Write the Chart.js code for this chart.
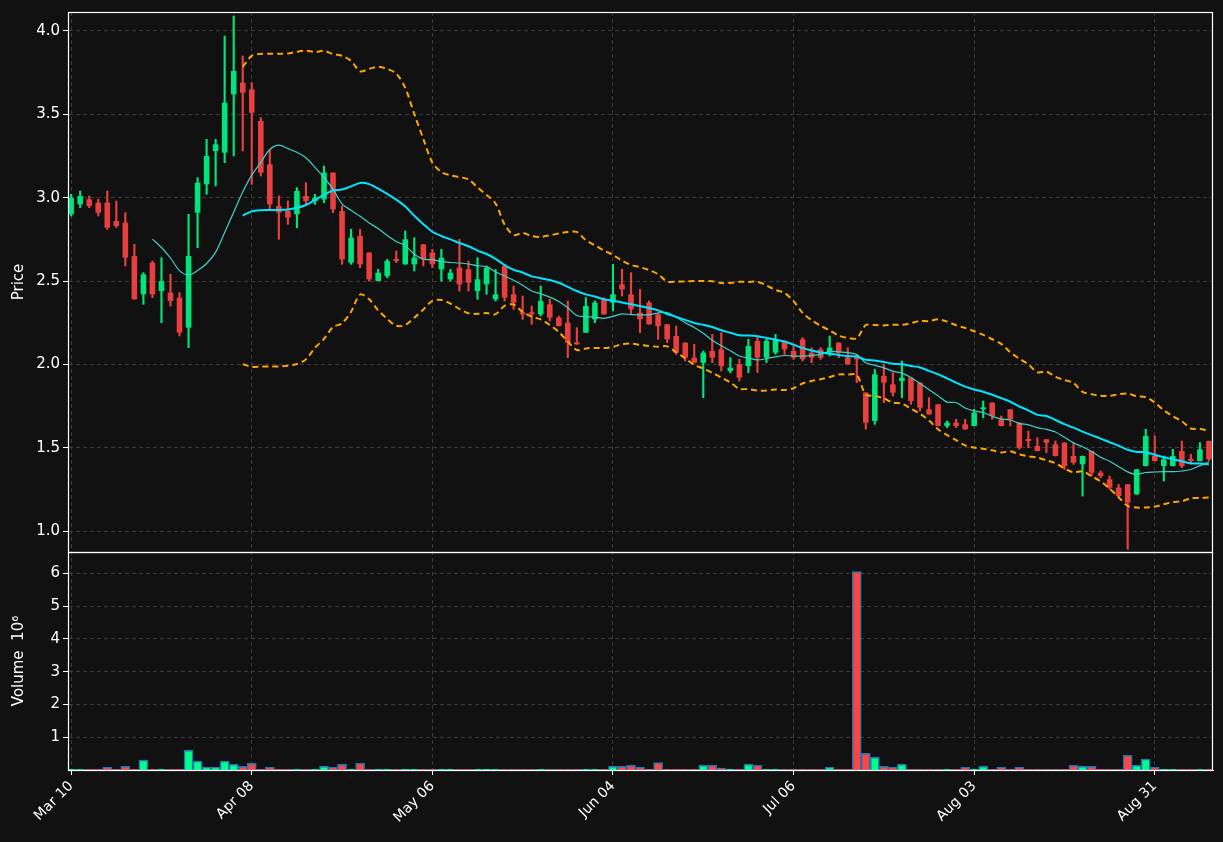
<!DOCTYPE html>
<html><head><meta charset="utf-8">
<script src="https://cdn.jsdelivr.net/npm/chart.js@4"></script>
<style>html,body{margin:0;padding:0;background:#111111;}#wrap{width:1223px;height:842px;}</style>
</head><body><div id="wrap"><canvas id="c" width="1223" height="842"></canvas></div>
<script>
const tickLabels = ['Mar 10','Apr 08','May 06','Jun 04','Jul 06','Aug 03','Aug 31'];
const openP = [2.90,2.96,2.99,2.97,2.97,2.86,2.85,2.65,2.42,2.61,2.44,2.43,2.40,2.22,2.91,3.08,3.28,3.27,3.62,3.69,
3.65,3.46,3.20,2.95,2.92,2.90,3.01,2.98,2.99,3.15,2.92,2.61,2.77,2.67,2.50,2.53,2.63,2.60,2.60,2.72,
2.67,2.57,2.51,2.58,2.57,2.44,2.48,2.39,2.59,2.42,2.31,2.31,2.30,2.36,2.28,2.25,2.13,2.19,2.27,2.39,
2.37,2.48,2.42,2.31,2.37,2.30,2.24,2.17,2.13,2.04,2.01,2.08,2.09,1.96,2.00,1.99,2.14,2.04,2.07,2.14,
2.08,2.15,2.07,2.09,2.07,2.13,2.04,2.05,1.83,1.66,1.93,1.88,1.90,1.92,1.89,1.73,1.76,1.63,1.65,1.64,
1.63,1.73,1.77,1.67,1.73,1.65,1.55,1.51,1.55,1.52,1.53,1.45,1.40,1.48,1.35,1.31,1.26,1.28,1.22,1.39,
1.45,1.39,1.39,1.48,1.43,1.42,1.54];
const highP = [3.02,3.04,3.01,2.99,3.04,2.98,2.91,2.72,2.55,2.62,2.64,2.54,2.43,2.90,3.12,3.35,3.35,3.97,4.09,3.85,
3.69,3.48,3.29,3.01,2.98,3.06,3.09,3.02,3.19,3.15,2.95,2.81,2.81,2.67,2.57,2.63,2.68,2.80,2.76,2.72,
2.69,2.69,2.57,2.75,2.62,2.64,2.59,2.57,2.60,2.47,2.41,2.35,2.47,2.39,2.29,2.38,2.22,2.40,2.38,2.40,
2.60,2.57,2.55,2.45,2.38,2.31,2.24,2.23,2.13,2.12,2.08,2.18,2.19,2.04,2.03,2.15,2.17,2.15,2.18,2.14,
2.11,2.16,2.10,2.10,2.17,2.13,2.10,2.06,1.83,1.97,2.00,1.95,2.02,1.92,1.89,1.80,1.76,1.66,1.67,1.67,
1.73,1.78,1.77,1.69,1.73,1.65,1.60,1.56,1.55,1.54,1.53,1.53,1.45,1.48,1.36,1.33,1.28,1.28,1.37,1.61,
1.57,1.45,1.49,1.54,1.46,1.53,1.54];
const lowP = [2.89,2.94,2.94,2.89,2.81,2.82,2.59,2.39,2.36,2.40,2.25,2.35,2.17,2.10,2.70,3.02,3.07,3.21,3.25,3.28,
3.08,3.13,2.93,2.75,2.84,2.82,2.96,2.96,2.97,2.91,2.60,2.60,2.58,2.50,2.50,2.52,2.61,2.60,2.56,2.59,
2.58,2.50,2.50,2.44,2.44,2.39,2.42,2.38,2.38,2.33,2.27,2.24,2.29,2.26,2.23,2.04,2.12,2.19,2.25,2.30,
2.32,2.41,2.30,2.19,2.24,2.15,2.13,2.06,2.02,2.01,1.80,2.01,1.96,1.95,1.90,1.95,1.95,2.01,2.06,2.06,
2.03,2.02,2.01,2.03,2.05,2.04,2.00,1.89,1.61,1.64,1.77,1.81,1.80,1.76,1.72,1.70,1.63,1.62,1.62,1.61,
1.63,1.68,1.67,1.63,1.63,1.49,1.50,1.48,1.47,1.45,1.37,1.40,1.21,1.33,1.32,1.25,1.20,0.89,1.22,1.39,
1.42,1.30,1.39,1.38,1.40,1.42,1.42];
const closeP = [3.00,3.01,2.95,2.91,2.82,2.83,2.64,2.39,2.54,2.42,2.50,2.38,2.19,2.65,3.09,3.25,3.32,3.57,3.76,3.63,
3.51,3.15,2.96,2.91,2.88,3.04,2.98,3.00,3.15,2.93,2.63,2.76,2.60,2.51,2.55,2.62,2.62,2.75,2.64,2.63,
2.60,2.64,2.55,2.48,2.49,2.51,2.58,2.42,2.40,2.37,2.30,2.30,2.38,2.28,2.23,2.13,2.12,2.35,2.37,2.30,
2.42,2.45,2.33,2.27,2.24,2.23,2.15,2.07,2.04,2.01,2.07,2.04,1.99,1.98,1.92,2.11,2.04,2.14,2.15,2.09,
2.04,2.03,2.04,2.04,2.10,2.07,2.00,2.03,1.65,1.94,1.89,1.83,1.92,1.78,1.74,1.70,1.63,1.65,1.63,1.61,
1.71,1.74,1.69,1.63,1.67,1.50,1.54,1.48,1.53,1.45,1.39,1.41,1.45,1.35,1.33,1.26,1.21,1.17,1.37,1.57,
1.42,1.43,1.45,1.39,1.42,1.49,1.43];
const volumeM = [0.02,0.02,0.02,0.02,0.08,0.02,0.11,0.02,0.30,0.02,0.02,0.02,0.02,0.60,0.27,0.08,0.08,0.27,0.17,0.11,
0.20,0.02,0.08,0.03,0.03,0.03,0.02,0.02,0.11,0.08,0.17,0.02,0.20,0.03,0.03,0.03,0.02,0.02,0.02,0.02,
0.02,0.02,0.02,0.02,0.02,0.02,0.02,0.02,0.02,0.02,0.02,0.02,0.02,0.02,0.02,0.02,0.02,0.02,0.02,0.02,
0.11,0.11,0.14,0.08,0.02,0.23,0.02,0.02,0.02,0.02,0.14,0.14,0.06,0.02,0.02,0.17,0.14,0.02,0.02,0.02,
0.02,0.02,0.02,0.03,0.08,0.02,0.02,6.05,0.51,0.39,0.11,0.08,0.17,0.03,0.03,0.03,0.02,0.02,0.02,0.08,
0.02,0.11,0.02,0.08,0.02,0.08,0.02,0.02,0.02,0.02,0.02,0.14,0.11,0.11,0.02,0.02,0.02,0.45,0.14,0.33,
0.08,0.02,0.02,0.02,0.02,0.02,0.02];

const UP='#00e47a', DN='#e8403f', VUP='#00ff88', VDN='#ff4444';
const idx = closeP.map((_,i)=>i);
function rolling(n, f){ return idx.map(i=>{ if(i<n-1) return null; const w=closeP.slice(i-n+1,i+1); return f(w); }); }
const mean = w=>w.reduce((a,b)=>a+b,0)/w.length;
const sd = w=>{const m=mean(w); return Math.sqrt(w.reduce((a,b)=>a+(b-m)*(b-m),0)/(w.length-1));};
const ma10 = rolling(10, mean);
const ma20 = rolling(20, mean);
const upper = rolling(20, w=>mean(w)+2*sd(w));
const lower = rolling(20, w=>mean(w)-2*sd(w));
const isUp = idx.map(i=>closeP[i]>=openP[i]);

const pt = arr => idx.map(i=>({x:i,y:arr[i]}));
const grid = {color:'#3a3a3a', lineWidth:1, tickColor:'#ffffff', tickLength:5, offset:false};
const font = {family:'DejaVu Sans', size:15};

const framePlugin = {id:'frame', afterDraw(ch){
  const c=ch.ctx, a=ch.chartArea; c.save(); c.strokeStyle='#ffffff'; c.lineWidth=1.2;
  ['y','yv'].forEach(k=>{const s=ch.scales[k]; c.strokeRect(a.left+0.5,s.top+0.5,a.right-a.left-1,s.bottom-s.top);});
  c.restore();
}, beforeDraw(ch){ const c=ch.ctx; c.save(); c.fillStyle='#111111'; c.fillRect(0,0,ch.width,ch.height); c.restore(); }};

new Chart(document.getElementById('c'), {
  data:{ datasets:[
    {type:'line', label:'upper', data:pt(upper), yAxisID:'y', borderColor:'#ffa500', borderWidth:2, borderDash:[6,4], pointRadius:0, tension:0.3, order:1},
    {type:'line', label:'lower', data:pt(lower), yAxisID:'y', borderColor:'#ffa500', borderWidth:2, borderDash:[6,4], pointRadius:0, tension:0.3, order:1},
    {type:'line', label:'ma20', data:pt(ma20), yAxisID:'y', borderColor:'#00e5ff', borderWidth:2, pointRadius:0, tension:0.3, order:1},
    {type:'line', label:'ma10', data:pt(ma10), yAxisID:'y', borderColor:'#40d0c8', borderWidth:1.2, pointRadius:0, tension:0.3, order:1},
    {type:'bar', label:'wick', data:idx.map(i=>({x:i,y:[lowP[i],highP[i]]})), yAxisID:'y', backgroundColor:idx.map(i=>isUp[i]?UP:DN), barThickness:1.5, grouped:false, order:3},
    {type:'bar', label:'body', data:idx.map(i=>({x:i,y:[Math.min(openP[i],closeP[i]),Math.max(openP[i],closeP[i])]})), yAxisID:'y', backgroundColor:idx.map(i=>isUp[i]?UP:DN), barPercentage:0.62, categoryPercentage:1, minBarLength:2, grouped:false, order:2},
    {type:'bar', label:'volume', data:idx.map(i=>({x:i,y:volumeM[i]})), yAxisID:'yv', backgroundColor:idx.map(i=>isUp[i]?VUP:VDN), borderColor:'#1f77b4', borderWidth:1.5, barPercentage:1, categoryPercentage:1, grouped:false, order:2}
  ]},
  options:{
    responsive:false, animation:false,
    layout:{padding:{top:12,right:10,left:0,bottom:0}},
    plugins:{legend:{display:false}, tooltip:{enabled:false}},
    scales:{
      x:{type:'linear', min:-0.35, max:126.45, offset:false,
        afterBuildTicks(s){ s.ticks=[0,20,40,60,80,100,120].map(v=>({value:v})); },
        afterFit(s){ s.height=72; },
        ticks:{color:'#ffffff', font:{family:'DejaVu Sans', size:14}, maxRotation:45, minRotation:45, callback:(v)=>tickLabels[v/20]},
        grid:{...grid}, border:{color:'#ffffff', dash:[4,3]}},
      yv:{type:'linear', position:'left', stack:'s', stackWeight:218, offset:false, min:0, max:6.65,
        afterBuildTicks(s){ s.ticks=[1,2,3,4,5,6].map(v=>({value:v})); },
        afterFit(s){ s.width=68; },
        ticks:{color:'#ffffff', font, callback:v=>String(v)},
        title:{display:true, text:'Volume  10⁶', color:'#ffffff', font, padding:{top:10,bottom:2}},
        grid:{...grid}, border:{color:'#ffffff', dash:[4,3]}},
      y:{type:'linear', position:'left', stack:'s', stackWeight:540, min:0.874, max:4.114,
        afterBuildTicks(s){ s.ticks=[1,1.5,2,2.5,3,3.5,4].map(v=>({value:v})); },
        afterFit(s){ s.width=68; },
        ticks:{color:'#ffffff', font, callback:v=>v.toFixed(1)},
        title:{display:true, text:'Price', color:'#ffffff', font, padding:{top:10,bottom:2}},
        grid:{...grid}, border:{color:'#ffffff', dash:[4,3]}}
    }
  },
  plugins:[framePlugin]
});
</script></body></html>
